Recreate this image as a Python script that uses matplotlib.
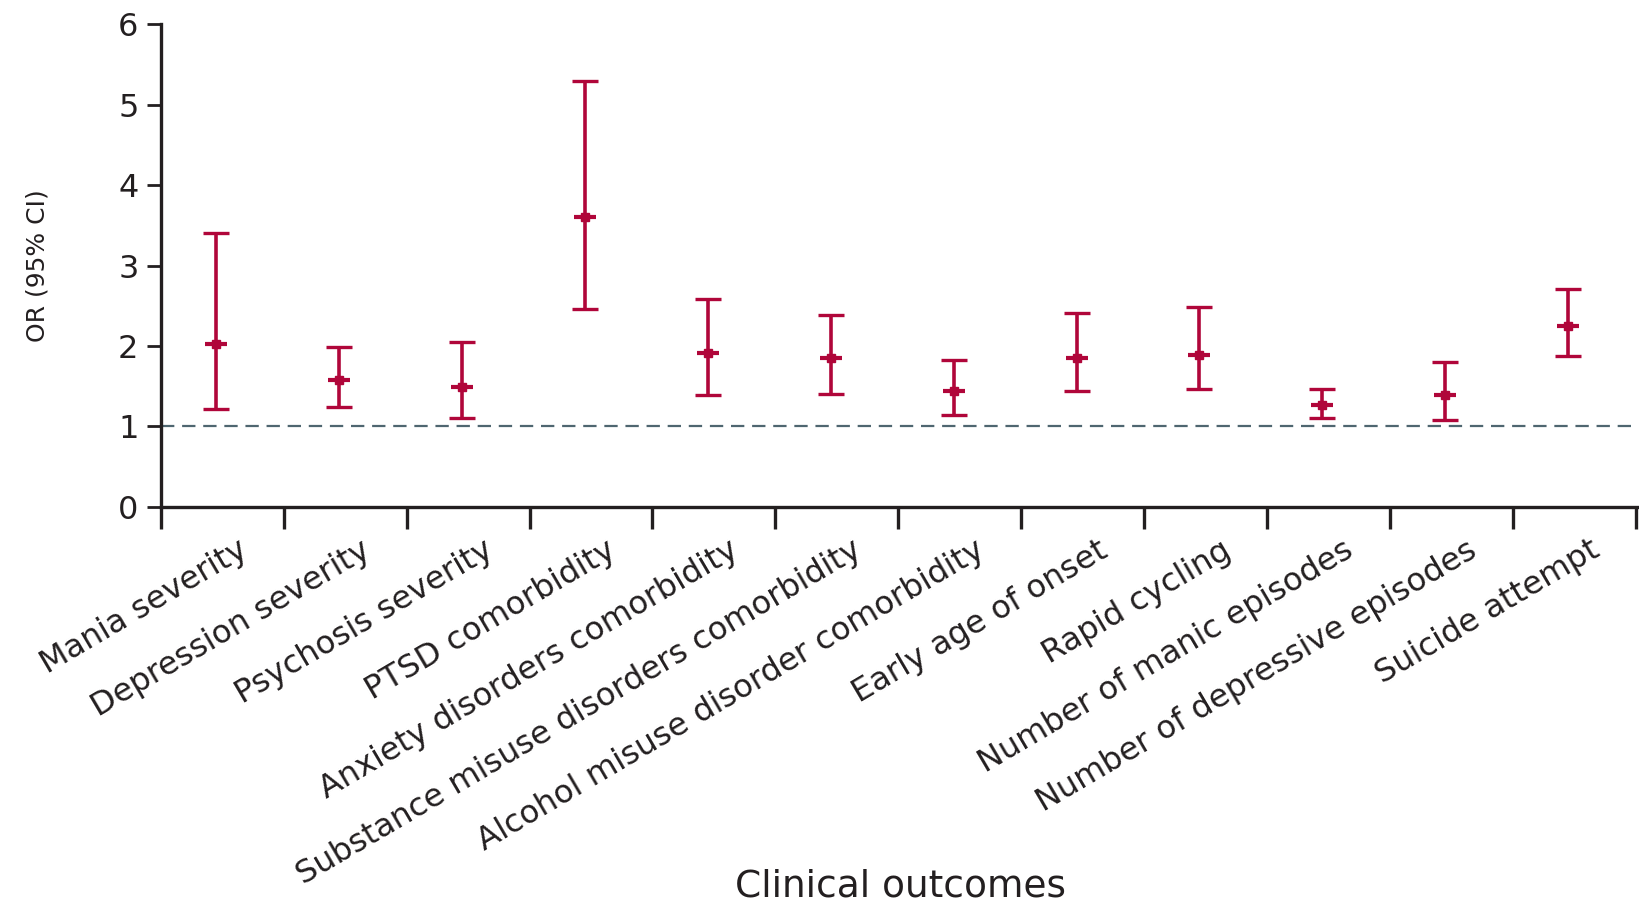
import matplotlib
matplotlib.use('Agg')
import numpy as np
from matplotlib import pyplot as plt

# data
outcomes = ['Mania severity', 'Depression severity', 'Psychosis severity',
            'PTSD comorbidity', 'Anxiety disorders comorbidity',
            'Substance misuse disorders comorbidity',
            'Alcohol misuse disorder comorbidity', 'Early age of onset',
            'Rapid cycling', 'Number of manic episodes',
            'Number of depressive episodes', 'Suicide attempt']
odds_ratio = [2.02, 1.58, 1.49, 3.60, 1.91, 1.85, 1.44, 1.85, 1.89, 1.27, 1.39, 2.25]
ci_low = [1.22, 1.24, 1.11, 2.46, 1.39, 1.41, 1.14, 1.44, 1.46, 1.11, 1.08, 1.88]
ci_high = [3.41, 1.99, 2.05, 5.30, 2.59, 2.39, 1.83, 2.41, 2.48, 1.47, 1.80, 2.71]

red = '#B0063A'
ink = '#231F20'

plt.rcParams['font.family'] = ['DejaVu Sans']
fig = plt.figure(figsize=(16.4, 9.02), dpi=100)
ax = fig.add_axes([0.098, 0.438, 0.901, 0.535])

x = np.arange(len(outcomes)) - 0.05
yerr = [np.array(odds_ratio) - np.array(ci_low), np.array(ci_high) - np.array(odds_ratio)]
ax.errorbar(x, odds_ratio, yerr=yerr, fmt='none', ecolor=red, elinewidth=2.6,
            capsize=9.5, capthick=2.4, zorder=3)
ax.plot(x, odds_ratio, linestyle='none', marker='_', markersize=16, mew=3, color=red, zorder=4)
ax.plot(x, odds_ratio, linestyle='none', marker='s', markersize=5.5, color=red, zorder=4)

# reference line at OR = 1
ax.axhline(1, color='#4F6670', lw=1.6, dashes=(6, 3.5), zorder=1)

ax.set_ylim(0, 6)
ax.set_xlim(-0.5, 11.52)
ax.set_yticks(range(7))
ax.tick_params(axis='y', direction='out', length=10, width=2, colors=ink, labelsize=23, pad=6)

# ticks at category boundaries, labels near the centres
ax.set_xticks(np.arange(-0.5, 12, 1))
ax.set_xticklabels([])
ax.tick_params(axis='x', which='major', direction='out', length=16, width=2.4, color=ink)
ax.set_xticks(np.arange(len(outcomes)) + 0.12, minor=True)
ax.set_xticklabels(outcomes, minor=True, rotation=30.5, ha='right', rotation_mode='anchor',
                   fontsize=23, color=ink)
ax.tick_params(axis='x', which='minor', length=0, pad=20)

for side in ['top', 'right']:
    ax.spines[side].set_visible(False)
for side in ['left', 'bottom']:
    ax.spines[side].set_linewidth(2.4)
    ax.spines[side].set_color(ink)

ax.set_ylabel('OR (95% CI)', fontsize=18, color=ink)
ax.yaxis.set_label_coords(-0.075, 0.5)
fig.text(0.549, 0.006, 'Clinical outcomes', ha='center', va='baseline', fontsize=27, color=ink)

plt.savefig('out.png', dpi=100)
plt.close()
